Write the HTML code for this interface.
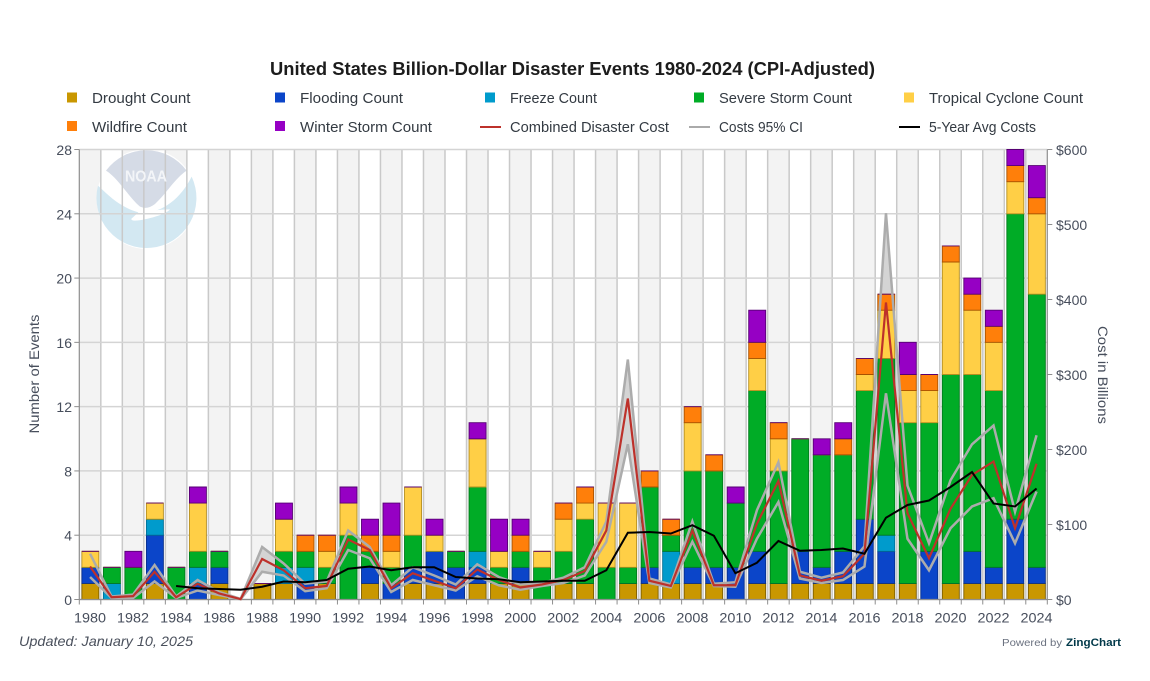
<!DOCTYPE html>
<html lang="en">
<head>
<meta charset="utf-8">
<title>United States Billion-Dollar Disaster Events 1980-2024 (CPI-Adjusted)</title>
<style>
html,body{margin:0;padding:0;background:#fff;}
svg{display:block;font-family:"Liberation Sans",sans-serif;}
.lg{font-size:15px;fill:#333a42;}
.tk{font-size:14px;fill:#474e5c;}
</style>
</head>
<body>
<svg id="chart" xmlns="http://www.w3.org/2000/svg" width="1150" height="681" viewBox="0 0 1150 681">
  <rect x="0" y="0" width="1150" height="681" fill="#fff"/>
  <text x="270" y="75" font-size="18" font-weight="700" fill="#1c1c1c" textLength="605" lengthAdjust="spacingAndGlyphs">United States Billion-Dollar Disaster Events 1980-2024 (CPI-Adjusted)</text>

  <g>
    <g><rect x="67" y="92.5" width="10" height="10" fill="#c99700"/><text class="lg" x="92" y="103" textLength="98.5" lengthAdjust="spacingAndGlyphs">Drought Count</text></g>
    <g><rect x="275" y="92.5" width="10" height="10" fill="#0b45c9"/><text class="lg" x="300" y="103" textLength="103" lengthAdjust="spacingAndGlyphs">Flooding Count</text></g>
    <g><rect x="485" y="92.5" width="10" height="10" fill="#009bcc"/><text class="lg" x="510" y="103" textLength="87" lengthAdjust="spacingAndGlyphs">Freeze Count</text></g>
    <g><rect x="694" y="92.5" width="10" height="10" fill="#00ac26"/><text class="lg" x="719" y="103" textLength="133" lengthAdjust="spacingAndGlyphs">Severe Storm Count</text></g>
    <g><rect x="904" y="92.5" width="10" height="10" fill="#ffcf46"/><text class="lg" x="929" y="103" textLength="154" lengthAdjust="spacingAndGlyphs">Tropical Cyclone Count</text></g>
    <g><rect x="67" y="121" width="10" height="10" fill="#ff7f0a"/><text class="lg" x="92" y="132" textLength="95" lengthAdjust="spacingAndGlyphs">Wildfire Count</text></g>
    <g><rect x="275" y="121" width="10" height="10" fill="#9600c4"/><text class="lg" x="300" y="132" textLength="132" lengthAdjust="spacingAndGlyphs">Winter Storm Count</text></g>
    <g><line x1="480" x2="501" y1="127" y2="127" stroke="#bd312b" stroke-width="2"/><text class="lg" x="510" y="132" textLength="159" lengthAdjust="spacingAndGlyphs">Combined Disaster Cost</text></g>
    <g><line x1="689" x2="710" y1="127" y2="127" stroke="#aaaaaa" stroke-width="2"/><text class="lg" x="719" y="132" textLength="84" lengthAdjust="spacingAndGlyphs">Costs 95% CI</text></g>
    <g><line x1="899" x2="920" y1="127" y2="127" stroke="#000" stroke-width="2"/><text class="lg" x="929" y="132" textLength="107" lengthAdjust="spacingAndGlyphs">5-Year Avg Costs</text></g>
  </g>

  <g id="bands"></g>

  <g>
    <g transform="translate(60,50) scale(0.3333)">
      <circle cx="260" cy="447" r="150" fill="#fff"/>
      <path d="M114 407 C140 430 175 470 235 487 C300 495 360 450 395 380 A150 150 0 1 1 114 407 Z" fill="#d3e8f2"/>
      <path d="M138 362 A150 150 0 0 1 380 362 C345 385 320 430 285 462 Q262 480 240 470 C205 440 175 385 138 362 Z" fill="#d5dbe6"/>
      <path d="M235 487 C270 483 300 478 330 478 C320 492 260 510 225 512 C215 512 210 508 218 503 Z" fill="#fff"/>
    </g>
  </g>

  <g id="grid"></g>
  <text x="125" y="181.5" font-size="16" font-weight="700" fill="#f3f5f8" textLength="42" lengthAdjust="spacingAndGlyphs">NOAA</text>
  <g id="ciArea"></g>
  <g id="bars"></g>
  <g id="axes"></g>
  <g id="lines"></g>

  <text transform="translate(39,374) rotate(-90)" text-anchor="middle" font-size="14" fill="#474e5c" textLength="119" lengthAdjust="spacingAndGlyphs">Number of Events</text>
  <text transform="translate(1098,375) rotate(90)" text-anchor="middle" font-size="14" fill="#474e5c" textLength="98" lengthAdjust="spacingAndGlyphs">Cost in Billions</text>
  <text x="19" y="646" font-size="14" font-style="italic" fill="#4a505c" textLength="174" lengthAdjust="spacingAndGlyphs">Updated: January 10, 2025</text>
  <g>
    <text x="1002" y="646" font-size="10.5" fill="#6b7280" textLength="60" lengthAdjust="spacingAndGlyphs">Powered by</text>
    <text x="1066" y="646" font-size="11" font-weight="700" fill="#003849" textLength="55" lengthAdjust="spacingAndGlyphs">ZingChart</text>
  </g>
</svg>
<script>
const years = [1980,1981,1982,1983,1984,1985,1986,1987,1988,1989,1990,1991,1992,1993,1994,1995,1996,1997,1998,1999,2000,2001,2002,2003,2004,2005,2006,2007,2008,2009,2010,2011,2012,2013,2014,2015,2016,2017,2018,2019,2020,2021,2022,2023,2024];
const droughtCount = [1,0,0,1,0,0,1,0,1,1,0,1,0,1,0,1,1,0,1,1,1,0,1,1,0,1,1,1,1,1,0,1,1,1,1,1,1,1,1,0,1,1,1,1,1];
const floodingCount = [1,0,0,3,0,1,1,0,0,0,1,0,0,1,1,1,2,2,1,0,1,0,0,0,0,0,1,0,1,1,2,2,0,2,1,2,4,2,0,3,0,2,1,4,1];
const freezeCount = [0,1,0,1,0,1,0,0,0,1,1,0,0,0,0,0,0,0,1,0,0,0,0,0,0,0,0,2,0,0,0,0,0,0,0,0,0,1,0,0,0,0,0,0,0];
const severeStormCount = [0,1,2,0,2,1,1,0,0,1,1,1,4,1,1,2,0,1,4,1,1,2,2,4,2,1,5,1,6,6,4,10,7,7,7,6,8,11,10,8,13,11,11,19,17];
const tropicalCycloneCount = [1,0,0,1,0,3,0,0,0,2,0,1,2,0,1,3,1,0,3,1,0,1,2,1,4,4,0,0,3,0,0,2,2,0,0,0,1,3,2,2,7,4,3,2,5];
const wildfireCount = [0,0,0,0,0,0,0,0,0,0,1,1,0,1,1,0,0,0,0,0,1,0,1,1,0,0,1,1,1,1,0,1,1,0,0,1,1,1,1,1,1,1,1,1,1];
const winterStormCount = [0,0,1,0,0,1,0,0,0,1,0,0,1,1,2,0,1,0,1,2,1,0,0,0,0,0,0,0,0,0,1,2,0,0,1,1,0,0,2,0,0,1,1,1,2];
const combinedCost = [44,3,4.5,37,3,21,8,0.5,54,39,15,18,80,66,15,35,25,15,40,26,16,20,26,38,92,268,25,18,92,19,19,101,158,32,25,31,61,396,115,55,121,166,184,95,181];
const costHigh = [61,4,6.5,46,4,26,10,0.7,70,48,21,24,92,70,19,43,32,20,47,30,20,22,29,43,104,320,28,20,104,21,23,119,183,37,29,36,71,515,152,75,159,207,232,117,219];
const costLow = [30,2,2,24,2,12,6,0.3,37,32,11,15,66,55,10,26,19,12,31,19,13,18,22,32,77,207,22,16,77,18,17,81,130,28,22,26,44,275,81,39,95,124,135,75,144];
const avgCost = [null,null,null,null,18,15,14,13,17,24,23,26,41,44,39,43,43,30,28,27,23,24,25,25,39,89,90,88,99,85,35,49,78,65,66,68,61,109,126,132,150,170,128,124,148];
const countTicks = [0,4,8,12,16,20,24,28];
const costTicks = [0,100,200,300,400,500,600];
const seriesFills = ['#c99700','#0b45c9','#009bcc','#00ac26','#ffcf46','#ff7f0a','#9600c4'];
const seriesEdges = ['#7a5c00','#082f8a','#006f94','#007a1b','#b58f20','#a85200','#560073'];
const seriesNames = ['drought','flooding','freeze','severe-storm','tropical-cyclone','wildfire','winter-storm'];
const stackSeries = [droughtCount,floodingCount,freezeCount,severeStormCount,tropicalCycloneCount,wildfireCount,winterStormCount];

const NS = 'http://www.w3.org/2000/svg';
const plotLeft = 79.3, plotRight = 1047.3, plotTop = 149.5, plotBottom = 599.5;
const band = (plotRight - plotLeft) / years.length;
const barWidth = 17;
function xLeft(i){ return plotLeft + band * i; }
function xCenter(i){ return plotLeft + band * (i + 0.5); }
function yCount(v){ return plotBottom - (plotBottom - plotTop) * v / 28; }
function yCost(v){ return plotBottom - (plotBottom - plotTop) * v / 600; }
function mk(parent, tag, attrs){
  const el = document.createElementNS(NS, tag);
  for (const k in attrs) el.setAttribute(k, attrs[k]);
  document.getElementById(parent).appendChild(el);
  return el;
}
function linePath(values){
  let d = '';
  values.forEach(function(v, i){
    if (v === null) return;
    d += (d ? 'L' : 'M') + xCenter(i).toFixed(2) + ' ' + yCost(v).toFixed(2);
  });
  return d;
}

years.forEach(function(year, i){
  if (i % 2 === 0) {
    const r = mk('bands', 'rect', {x: xLeft(i), y: plotTop, width: band, height: plotBottom - plotTop, fill: '#f3f3f3'});
    
    
  }
});
for (let i = 1; i < years.length; i++) {
  const v = mk('grid', 'line', {x1: xLeft(i), x2: xLeft(i), y1: plotTop, y2: plotBottom, stroke: '#c9c9c9', 'stroke-width': 1.5});
  
  
}
countTicks.forEach(function(t){
  const h = mk('grid', 'line', {x1: plotLeft, x2: plotRight, y1: yCount(t), y2: yCount(t), stroke: '#d4d4d4', 'stroke-width': 1.5});
  
  
});

let ciD = linePath(costHigh);
for (let i = years.length - 1; i >= 0; i--) {
  ciD += 'L' + xCenter(i).toFixed(2) + ' ' + yCost(costLow[i]).toFixed(2);
}
const ciFill = mk('ciArea', 'path', {d: ciD + 'Z', fill: '#d4d4d4', stroke: 'none'});



years.forEach(function(year, i){
  const total = stackSeries.reduce(function(s, a){ return s + a[i]; }, 0);
  if (total === 0) return;
  const bx = xCenter(i) - barWidth / 2 + 0.3;
  let acc = 0;
  stackSeries.forEach(function(arr, s){
    const y0 = yCount(acc + arr[i]);
    const h = yCount(acc) - y0;
    const seg = mk('bars', 'path', {
      d: 'M' + bx.toFixed(2) + ' ' + y0.toFixed(2) + 'h' + barWidth + 'v' + h.toFixed(2) + 'h-' + barWidth + 'Z',
      fill: seriesFills[s], stroke: seriesEdges[s], 'stroke-width': 0.9
    });
    
    
    acc += arr[i];
  });
});

const axisLines = [
  [plotLeft, plotTop, plotLeft, plotBottom, 'left-axis-line'],
  [plotRight, plotTop, plotRight, plotBottom, 'right-axis-line'],
  [plotLeft, plotBottom, plotRight, plotBottom, 'x-axis-line']
];
axisLines.forEach(function(a){
  const l = mk('axes', 'line', {x1: a[0], y1: a[1], x2: a[2], y2: a[3], stroke: '#8e8e8e', 'stroke-width': 1.2});
  
  
});
for (let i = 0; i <= years.length; i++) {
  const t = mk('axes', 'line', {x1: xLeft(i), x2: xLeft(i), y1: plotBottom, y2: plotBottom + 5, stroke: '#8e8e8e', 'stroke-width': 1});
  
  
}
years.forEach(function(year, i){
  if (i % 2 !== 0) return;
  const t = mk('axes', 'text', {x: xCenter(i), y: 622.5, 'text-anchor': 'middle', 'class': 'tk', textLength: 32, lengthAdjust: 'spacingAndGlyphs'});
  t.textContent = String(year);
  
  
});
countTicks.forEach(function(c){
  const tick = mk('axes', 'line', {x1: plotLeft - 5, x2: plotLeft, y1: yCount(c), y2: yCount(c), stroke: '#8e8e8e', 'stroke-width': 1});
  
  
  const t = mk('axes', 'text', {x: 72, y: yCount(c) + 5.5, 'text-anchor': 'end', 'class': 'tk'});
  t.textContent = String(c);
  
  
});
costTicks.forEach(function(c){
  const tick = mk('axes', 'line', {x1: plotRight, x2: plotRight + 5, y1: yCost(c), y2: yCost(c), stroke: '#8e8e8e', 'stroke-width': 1});
  
  
  const t = mk('axes', 'text', {x: 1056, y: yCost(c) + 5.5, 'class': 'tk'});
  t.textContent = '$' + c;
  
  
});

const highLine = mk('lines', 'path', {d: linePath(costHigh), fill: 'none', stroke: '#acacac', 'stroke-width': 2.5, 'stroke-linejoin': 'miter'});


const lowLine = mk('lines', 'path', {d: linePath(costLow), fill: 'none', stroke: '#acacac', 'stroke-width': 2.5, 'stroke-linejoin': 'miter'});


const costLine = mk('lines', 'path', {d: linePath(combinedCost), fill: 'none', stroke: '#bd312b', 'stroke-width': 2.2, 'stroke-linejoin': 'miter'});


const avgLine = mk('lines', 'path', {d: linePath(avgCost), fill: 'none', stroke: '#000', 'stroke-width': 2, 'stroke-linejoin': 'miter'});


</script>
</body>
</html>
